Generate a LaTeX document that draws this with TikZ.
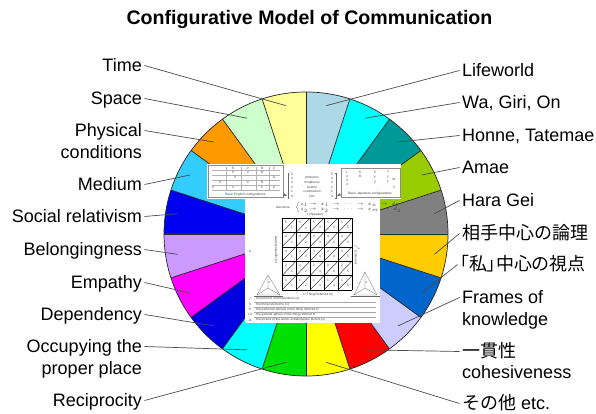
\documentclass[tikz,border=0pt]{standalone}
\usepackage{fontspec}
\setmainfont{Liberation Sans}
\newfontfamily\jpfont{Noto Sans CJK JP}
\newfontfamily\jppropfont[RawFeature=+palt]{Noto Sans CJK JP}
\definecolor{cA}{HTML}{FFFF99}
\definecolor{cB}{HTML}{CCFFCC}
\definecolor{cC}{HTML}{FF9900}
\definecolor{cD}{HTML}{33CCFF}
\definecolor{cE}{HTML}{0000F0}
\definecolor{cF}{HTML}{CC99FF}
\definecolor{cG}{HTML}{FF00FF}
\definecolor{cH}{HTML}{0000E0}
\definecolor{cI}{HTML}{00FFFF}
\definecolor{cJ}{HTML}{00E000}
\definecolor{cK}{HTML}{FFFF00}
\definecolor{cL}{HTML}{FF0000}
\definecolor{cM}{HTML}{CCCCFF}
\definecolor{cN}{HTML}{0066CC}
\definecolor{cO}{HTML}{FFCC00}
\definecolor{cP}{HTML}{808080}
\definecolor{cQ}{HTML}{99CC00}
\definecolor{cR}{HTML}{009999}
\definecolor{cS}{HTML}{00FFFF}
\definecolor{cT}{HTML}{ADD8E6}
\begin{document}
\begin{tikzpicture}[x=1pt,y=1pt,
  lbl/.style={font=\fontsize{18}{22}\selectfont, inner sep=2.5pt, text height=13pt, text depth=0pt},
  lbll/.style={lbl, anchor=base east},
  lblr/.style={lbl, anchor=base west},
  jp/.style={font=\jpfont\fontsize{18}{22}\selectfont},
  conn/.style={draw=black!70, line width=0.7pt},
  sector/.style={draw=black!85, line width=0.7pt},
  boxline/.style={draw=black!45, line width=0.3pt},
  thin/.style={draw=black!60, line width=0.25pt},
  tiny/.style={font=\fontsize{3.2}{3.6}\selectfont, inner sep=0.2pt, text=black!75},
]
\useasboundingbox (0,0) rectangle (596,414);
\fill[white] (0,0) rectangle (596,414);

% title
\node[font=\bfseries\fontsize{19.6}{22}\selectfont, anchor=base] (title) at (309.5,389) {Configurative Model of Communication};

% the wheel of twenty sectors
\coordinate (c) at (306,180);
\foreach \a/\col in {0/cP,18/cQ,36/cR,54/cS,72/cT,90/cA,108/cB,126/cC,144/cD,162/cE,
                     180/cF,198/cG,216/cH,234/cI,252/cJ,270/cK,288/cL,306/cM,324/cN,342/cO}
  \fill[\col] (c) -- ++(\a:142) arc[start angle=\a, delta angle=18, radius=142] -- cycle;
\foreach \a in {0,18,...,342}
  \draw[sector] (c) -- ++(\a:142);
\draw[sector] (c) circle[radius=142];

% connector targets at the middle of each sector
\foreach \n/\a in {time/99,space/117,phys/135,medium/153,social/171,belong/189,empathy/207,
                   depend/225,occupy/243,recip/261,sonota/279,ikkan/297,frames/315,watashi/333,
                   aite/351,hara/9,amae/27,honne/45,wa/63,life/81}
  \path (c) ++(\a:130) coordinate (t-\n);

% central panel
\fill[white] (207,215) rectangle (401,250);
\fill[white] (245,91) rectangle (380,215);

% basic English configurations
\draw[boxline] (208,217) rectangle (283,249);
\foreach \y in {244,239,234,229,224} \draw[thin, draw=black!30] (212,\y) -- (280,\y);
\foreach \x in {226,241,256,269} \draw[thin, draw=black!30] (\x,224) -- (\x,247);
\foreach \x/\y/\t in {233/246/S,248/246/V,262/246/O,274/246/C,
                     233/241.5/S,248/241.5/V,262/241.5/O,235/236.5/V,274/236.5/A,
                     220/231.5/S,248/231.5/V,262/231.5/O,213/226.5/S,233/226.5/V,262/226.5/C,274/226.5/A}
  \node[tiny] (e-\x-\y) at (\x,\y) {\t};
\node[tiny] (engcap) at (245.5,219.5) {Basic English configurations};

% basic Japanese configurations
\draw[boxline] (341,217) rectangle (400,246);
\foreach \x/\y/\t in {347/242/1,347/238/2,347/234/3,347/230/4,360/242/S,360/238/O,
                     375/242/X,375/237/Y,375/232/Z,388/242/x,388/237/y,388/232/z,394/235/W,394/227/V}
  \node[tiny] (j-\x-\y) at (\x,\y) {\t};
\node[tiny] (jpcap) at (370,220) {Basic Japanese configurations};

% levels of linguistic matter
\foreach \y/\t in {236/phoneme,231.5/morpheme,227/lexeme,222.5/construction,218/text}
  \node[tiny] (lv-\t) at (312,\y) {\t};
\foreach \y/\t in {240/5,236/4,231.5/3,227/2,222.5/1,218/0}
  { \node[tiny] (ln-\t) at (292,\y) {\t}; \node[tiny] (rn-\t) at (332,\y) {\t}; }
\draw[thin] (289,241) -- (288,241) -- (288,216) -- (289,216);
\draw[thin] (335,241) -- (336,241) -- (336,216) -- (335,216);
\draw[thin,-latex] (283,220) -- (287,218);
\draw[thin,-latex] (341,220) -- (337,218);

% discourse
\node[tiny] (disc) at (283,207) {discourse};
\draw[thin] (299,212) .. controls (297,212) and (298,207) .. (296,207) .. controls (298,207) and (297,202) .. (299,202);
\node[tiny, anchor=west] (d1) at (300,209.5) {$z_1 \rightarrow\; x_1 \;\rightarrow\; \cdots \;\rightarrow\; x_n \;\rightarrow\; d_1$};
\node[tiny, anchor=west] (d2) at (300,204) {$z_2 \rightarrow\; x_2 \;\rightarrow\; \cdots \;\rightarrow\; x_m \;\rightarrow\; d_2$};

% the 5 x 5 grid
\node[tiny] (zlab) at (315,199.5) {z (Speaker)};
\foreach \i in {0,...,5} {
  \draw[line width=0.45pt] (282+14*\i,124) -- (282+14*\i,196);
  \draw[line width=0.45pt] (282,124+14.4*\i) -- (352,124+14.4*\i);
}
\foreach \i in {0,...,4} \foreach \j in {0,...,4} {
  \draw[line width=0.35pt] (282+14*\i,124+14.4*\j) -- (296+14*\i,138.4+14.4*\j);
  \pgfmathtruncatemacro{\r}{\j+1}
  \pgfmathtruncatemacro{\k}{\i+1}
  \node[tiny] (g-\i-\j-a) at (286+14*\i,134+14.4*\j) {\r};
  \node[tiny] (g-\i-\j-b) at (292+14*\i,128.5+14.4*\j) {\k};
}
\node[tiny, rotate=90] (ylab) at (276,164) {y (Linguistic Matter)};
\node[tiny, rotate=-90] (llab) at (357,159) {z$'$ (Listener)};
\node[tiny] (wlab) at (250,162) {w};
\node[tiny] (xlab) at (318,119) {x (Thing Referred to)};

% the two small triangles
\foreach \nm/\ax/\ay/\bx/\cx/\px in {lt/268/139/257/280/268,rt/365/142/354/377/365} {
  \draw[thin] (\ax,\ay) -- (\bx,119) -- (\cx,119) -- cycle;
  \draw[thin] (\px,126) -- (\ax,\ay) (\px,126) -- (\bx,119) (\px,126) -- (\cx,119);
  \draw[thin] (\bx-3,117.5) -- (\cx+3,117.5);
  \node[tiny] (tri-\nm) at (\px+1.5,131) {z};
}

% legend
\foreach \y/\n/\t in {115/7/{the point of communication (z)},
                      109.5/8/{the thing referred to (x)},
                      104.5/9/{the particular domain of the thing referred to},
                      99.5/10/{the general sphere of the thing referred to},
                      94/11/{the picture of the world, extralinguistic factors (z)}} {
  \node[tiny] (lg-\n) at (250,\y) {\n};
  \node[tiny, anchor=west] (lgt-\n) at (256,\y) {\t};
}
\foreach \y in {112.3,107,102,96.8} \draw[thin, draw=black!35] (254,\y) -- (376,\y);

% labels on the left
\node[lbll] (time) at (144.5,342) {Time};
\node[lbll] (space) at (144.5,309) {Space};
\node[lbll] (phys) at (144.5,277) {Physical};
\node[lbll] (phys2) at (144.5,255) {conditions};
\node[lbll] (medium) at (144.5,223) {Medium};
\node[lbll] (social) at (144.5,191) {Social relativism};
\node[lbll] (belong) at (144.5,158) {Belongingness};
\node[lbll] (empathy) at (144.5,125) {Empathy};
\node[lbll] (depend) at (144.5,93) {Dependency};
\node[lbll] (occupy) at (144.5,61) {Occupying the};
\node[lbll] (occupy2) at (144.5,39) {proper place};
\node[lbll] (recip) at (144.5,7) {Reciprocity};

% labels on the right
\node[lblr] (life) at (459.5,337) {Lifeworld};
\node[lblr] (wa) at (459.5,305) {Wa, Giri, On};
\node[lblr] (honne) at (459.5,272) {Honne, Tatemae};
\node[lblr] (amae) at (459.5,240) {Amae};
\node[lblr] (hara) at (459.5,207) {Hara Gei};
\node[lblr, jp] (aite) at (459.5,174) {相手中心の論理};
\node[lblr, font=\jppropfont\fontsize{18}{22}\selectfont] (watashi) at (457.5,143) {「私」中心の視点};
\node[lblr] (frames) at (459.5,110) {Frames of};
\node[lblr] (frames2) at (459.5,88) {knowledge};
\node[lblr, jp] (ikkan) at (459.5,56) {一貫性};
\node[lblr] (ikkan2) at (459.5,35) {cohesiveness};
\node[lblr] (sonota) at (459.5,4) {{\jpfont その他} etc.};

% connectors
\foreach \n in {time,space,phys,medium,social,belong,empathy,depend,occupy,recip}
  \draw[conn] (\n.east) -- (t-\n);
\foreach \n in {life,wa,honne,amae,hara,aite,watashi,frames,ikkan,sonota}
  \draw[conn] (\n.west) -- (t-\n);
\end{tikzpicture}
\end{document}
